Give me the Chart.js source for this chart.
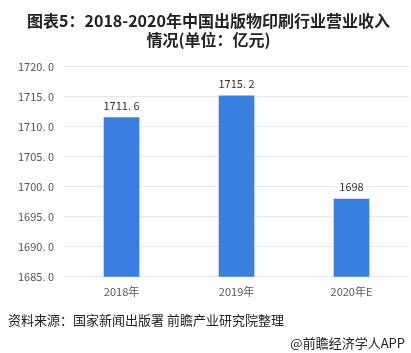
<!DOCTYPE html>
<html>
<head>
<meta charset="utf-8">
<script src="https://cdn.jsdelivr.net/npm/chart.js@4/dist/chart.umd.min.js"></script>
<style>
  html, body { margin: 0; padding: 0; background: #fff; }
  #wrap { width: 411px; height: 353px; position: relative; }
</style>
</head>
<body>
<div id="wrap"><canvas id="chart"></canvas></div>
<script>
const categories = ["2018年", "2019年", "2020年E"];
const revenue = [1711.6, 1715.2, 1698];
const valueLabels = ["1711. 6", "1715. 2", "1698"];
const yMin = 1685, yMax = 1720, yStep = 5;

const FONT = "'Noto Sans CJK SC', 'Noto Sans', sans-serif";

// 柱顶数值 + 底部来源
const extras = {
  id: "extras",
  afterDatasetsDraw(chart) {
    const ctx = chart.ctx;
    const meta = chart.getDatasetMeta(0);
    ctx.save();
    ctx.font = "11px " + FONT;
    ctx.fillStyle = "#333";
    ctx.textAlign = "center";
    ctx.textBaseline = "bottom";
    meta.data.forEach((bar, i) => {
      ctx.fillText(valueLabels[i], bar.x, bar.y - 6);
    });
    ctx.font = "13px " + FONT;
    ctx.fillStyle = "#222";
    ctx.textAlign = "left";
    ctx.textBaseline = "middle";
    ctx.fillText("资料来源：国家新闻出版署 前瞻产业研究院整理", 8, 320);
    ctx.textAlign = "right";
    ctx.fillText("@前瞻经济学人APP", 405, 343);
    ctx.restore();
  }
};

new Chart(document.getElementById("chart"), {
  type: "bar",
  data: {
    labels: categories,
    datasets: [{
      data: revenue,
      backgroundColor: "#3a7ee0",
      categoryPercentage: 1,
      barPercentage: 0.31
    }]
  },
  options: {
    responsive: true,
    maintainAspectRatio: false,
    animation: false,
    layout: { padding: { left: 8, right: 2, bottom: 55 } },
    plugins: {
      legend: { display: false },
      tooltip: { enabled: false },
      title: {
        display: true,
        text: ["图表5：2018-2020年中国出版物印刷行业营业收入", "情况(单位：亿元)"],
        font: { family: FONT, size: 16, weight: "bold", lineHeight: 1.15 },
        color: "#222",
        padding: { top: 12, bottom: 18 }
      }
    },
    scales: {
      x: {
        grid: { display: false },
        border: { display: false },
        ticks: { color: "#555", font: { family: FONT, size: 11 }, padding: 0 }
      },
      y: {
        min: yMin,
        max: yMax,
        ticks: {
          stepSize: yStep,
          color: "#555",
          font: { family: FONT, size: 11 },
          padding: 10,
          callback: v => v.toFixed(1).replace(".", ". ")
        },
        grid: { color: "#e8e8e8", drawTicks: false },
        border: { display: false }
      }
    }
  },
  plugins: [extras]
});
</script>
</body>
</html>
